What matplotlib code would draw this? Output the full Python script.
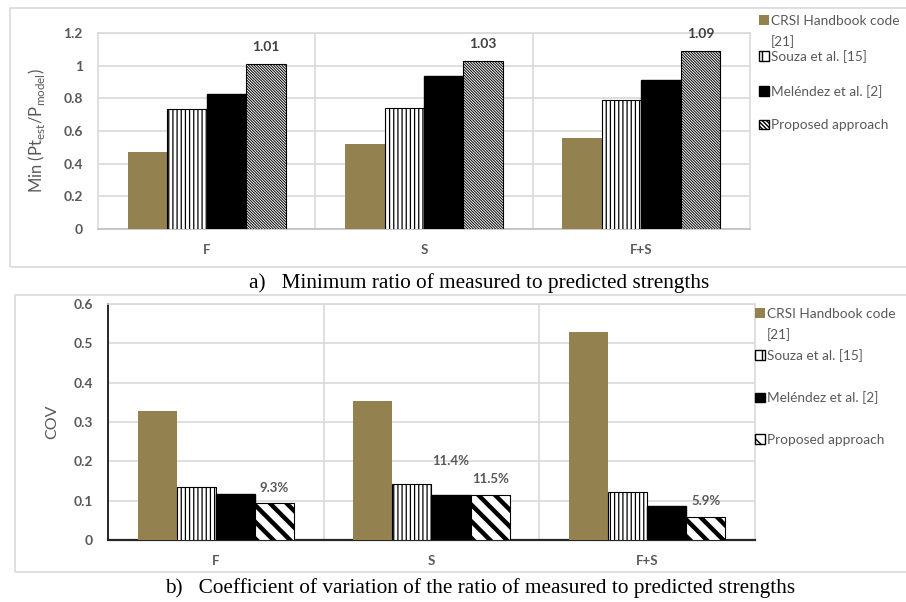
import matplotlib
matplotlib.use('Agg')
import matplotlib.pyplot as plt
import numpy as np
from matplotlib.patches import Rectangle, Patch

plt.rcParams['font.family'] = ['Lato', 'DejaVu Sans']

# data
categories = ['F', 'S', 'F+S']
series = ['CRSI Handbook code', 'Souza et al. [15]', 'Meléndez et al. [2]', 'Proposed approach']
crsi_ref = '[21]'

crsi_min = [0.473, 0.518, 0.555]
souza_min = [0.733, 0.739, 0.792]
melendez_min = [0.828, 0.939, 0.910]
proposed_min = [1.01, 1.03, 1.09]

crsi_cov = [0.327, 0.354, 0.530]
souza_cov = [0.136, 0.143, 0.121]
melendez_cov = [0.116, 0.114, 0.087]
proposed_cov = [0.093, 0.115, 0.059]

olive = '#948150'
grey_txt = '#595959'
grid_c = '#d9d9d9'

fig = plt.figure(figsize=(9.06, 6.02), dpi=100)

# light frames around each panel
fig.patches.append(Rectangle((10 / 906, 1 - 267 / 602), 1.0, 259 / 602, transform=fig.transFigure,
                             fill=False, edgecolor=grid_c, linewidth=1.2))
fig.patches.append(Rectangle((15 / 906, 1 - 572 / 602), 1.0, 277 / 602, transform=fig.transFigure,
                             fill=False, edgecolor=grid_c, linewidth=1.2))

x = np.arange(len(categories))
w = 0.1816


def draw_panel(ax, vals, prop_hatch, prop_lw):
    bars = []
    styles = [
        dict(color=olive, edgecolor='none'),
        dict(facecolor='white', edgecolor='black', hatch='||||', linewidth=0.8),
        dict(color='black', edgecolor='black'),
        dict(facecolor='white', edgecolor='black', hatch=prop_hatch, linewidth=0.8),
    ]
    for i, (v, st) in enumerate(zip(vals, styles)):
        b = ax.bar(x + (i - 1.5) * w, v, w, zorder=3, **st)
        bars.append(b)
    for p in bars[3]:
        if hasattr(p, 'set_hatch_linewidth'):
            p.set_hatch_linewidth(prop_lw)
    for p in bars[1]:
        if hasattr(p, 'set_hatch_linewidth'):
            p.set_hatch_linewidth(0.9)
    ax.set_xlim(-0.5, 2.5)
    ax.set_xticks(x)
    ax.set_xticklabels(categories, fontweight='bold', color=grey_txt, fontsize=9.5)
    ax.set_xticks([0.5, 1.5], minor=True)
    ax.tick_params(axis='x', which='both', length=0, pad=11)
    ax.tick_params(axis='y', length=0, pad=11, labelcolor=grey_txt, labelsize=10)
    for t in ax.get_yticklabels():
        t.set_fontweight('bold')
    ax.grid(axis='y', color=grid_c, linewidth=1.2, zorder=0)
    ax.grid(axis='x', which='minor', color=grid_c, linewidth=1.2, zorder=0)
    ax.set_axisbelow(True)
    for s in ax.spines.values():
        s.set_color(grid_c)
        s.set_linewidth(1.2)
    return bars


def make_legend(ax, prop_hatch, x0, top_a, top_b, spacing):
    # first entry wraps onto a second line, so it gets its own small legend
    common = dict(loc='upper left', bbox_transform=fig.transFigure, frameon=False,
                  fontsize=9.8, labelcolor=grey_txt, handlelength=0.7, handleheight=0.7,
                  handletextpad=0.2, borderaxespad=0, borderpad=0)
    h_a = [Patch(facecolor=olive, edgecolor='none'), Patch(facecolor='none', edgecolor='none')]
    leg_a = ax.legend(h_a, [series[0], crsi_ref], bbox_to_anchor=(x0 / 906, 1 - top_a / 602),
                      labelspacing=0.6, **common)
    ax.add_artist(leg_a)
    h_b = [
        Patch(facecolor='white', edgecolor='black', hatch='||'),
        Patch(facecolor='black', edgecolor='black'),
        Patch(facecolor='white', edgecolor='black', hatch=prop_hatch),
    ]
    ax.legend(h_b, series[1:], bbox_to_anchor=(x0 / 906, 1 - top_b / 602),
              labelspacing=spacing, **common)


# panel a
ax1 = fig.add_axes([98 / 906, 1 - 229 / 602, 652 / 906, 196 / 602])
bars1 = draw_panel(ax1, [crsi_min, souza_min, melendez_min, proposed_min], '\\' * 12, 0.7)
ax1.set_ylim(0, 1.2)
ax1.set_yticks([0, 0.2, 0.4, 0.6, 0.8, 1, 1.2])
ax1.set_yticklabels(['0', '0.2', '0.4', '0.6', '0.8', '1', '1.2'], fontweight='bold')
ax1.spines['bottom'].set_color('#bfbfbf')
ax1.set_ylabel(r'Min (Pt$_{\mathregular{est}}$/P$_{\mathregular{model}}$)', color=grey_txt,
               fontsize=12, labelpad=12)
ax1.bar_label(bars1[3], labels=[f'{v:.2f}' for v in proposed_min], padding=8,
              fontweight='bold', color='#404040', fontsize=10)
make_legend(ax1, '\\' * 8, 759, 15, 50, 1.6)

# panel b
ax2 = fig.add_axes([108 / 906, 1 - 540 / 602, 647 / 906, 236 / 602])
bars2 = draw_panel(ax2, [crsi_cov, souza_cov, melendez_cov, proposed_cov], '\\\\', 3.2)
ax2.set_ylim(0, 0.6)
ax2.set_yticks([0, 0.1, 0.2, 0.3, 0.4, 0.5, 0.6])
ax2.set_yticklabels(['0', '0.1', '0.2', '0.3', '0.4', '0.5', '0.6'], fontweight='bold')
ax2.spines['left'].set_color('#262626')
ax2.spines['bottom'].set_color('#262626')
ax2.spines['left'].set_linewidth(1.4)
ax2.spines['bottom'].set_linewidth(1.6)
ax2.set_ylabel('COV', color=grey_txt, fontsize=11.5, labelpad=10)
ax2.bar_label(bars2[3], labels=[f'{v * 100:.1f}%' for v in proposed_cov], padding=7,
              fontweight='bold', color=grey_txt, fontsize=9.5)
# displaced data label for Meléndez, S
ax2.text(x[1] + 0.5 * w, 0.2, f'{melendez_cov[1] * 100:.1f}%', ha='center', va='center',
         fontweight='bold', color=grey_txt, fontsize=9.5)
make_legend(ax2, '\\\\', 755, 308, 349, 2.17)

# captions
fig.text(0.529, 1 - 283 / 602, 'a)   Minimum ratio of measured to predicted strengths',
         ha='center', va='center', family='Liberation Serif', fontsize=15.3)
fig.text(0.53, 1 - 588 / 602,
         'b)   Coefficient of variation of the ratio of measured to predicted strengths',
         ha='center', va='center', family='Liberation Serif', fontsize=15.3)

fig.savefig('out.png', dpi=100)
